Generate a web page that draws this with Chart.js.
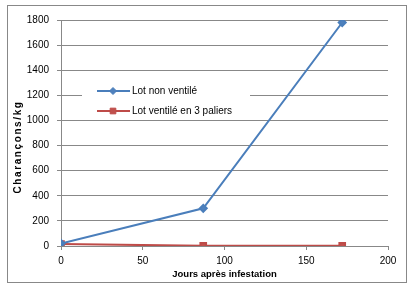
<!DOCTYPE html>
<html>
<head>
<meta charset="utf-8">
<script src="https://cdn.jsdelivr.net/npm/chart.js@4"></script>
<style>
  html, body { margin: 0; padding: 0; background: #fff; }
  #wrap { width: 412px; height: 287px; }
</style>
</head>
<body>
<div id="wrap"><canvas id="c" width="412" height="287"></canvas></div>
<script>
const days = [0, 87, 172];
const lotNonVentile = [20, 300, 1780];
const lotVentile3Paliers = [15, 2, 2];
const seriesNames = ["Lot non ventilé", "Lot ventilé en 3 paliers"];
const xTitle = "Jours après infestation";
const yTitle = "Charançons/kg";

const FONT = "'Liberation Sans', Arial, sans-serif";
const GRID = "#888888";

const toPoints = (xs, ys) => xs.map((x, i) => ({ x: x, y: ys[i] }));

const decorPlugin = {
  id: 'decor',
  beforeDraw(chart) {
    const ctx = chart.ctx;
    ctx.save();
    ctx.fillStyle = '#fff';
    ctx.fillRect(0, 0, chart.width, chart.height);
    ctx.strokeStyle = GRID;
    ctx.lineWidth = 1;
    ctx.strokeRect(7.5, 5.5, 399, 277);
    ctx.restore();
  },
  beforeDatasetsDraw(chart) {
    const ctx = chart.ctx;
    ctx.save();
    ctx.fillStyle = '#fff';
    ctx.fillRect(82, 77, 168, 42);
    ctx.restore();
  },
  afterDatasetsDraw(chart) {
    const ctx = chart.ctx;
    ctx.save();
    ctx.translate(18, 147);
    ctx.rotate(-Math.PI / 2);
    ctx.font = "bold 10px " + FONT;
    if ('letterSpacing' in ctx) ctx.letterSpacing = '1.6px';
    ctx.fillStyle = '#000';
    ctx.textAlign = 'center';
    ctx.textBaseline = 'middle';
    ctx.fillText(yTitle, 0, 0);
    ctx.restore();

    ctx.save();
    const rows = [91, 111];
    chart.data.datasets.forEach((ds, i) => {
      const y = rows[i];
      ctx.strokeStyle = ds.borderColor;
      ctx.lineWidth = 2;
      ctx.beginPath();
      ctx.moveTo(97, y);
      ctx.lineTo(130, y);
      ctx.stroke();
      ctx.fillStyle = ds.pointBackgroundColor;
      ctx.strokeStyle = ds.pointBorderColor;
      ctx.lineWidth = 1;
      ctx.beginPath();
      if (ds.pointStyle === 'rect') {
        const s = Math.SQRT1_2 * ds.pointRadius;
        ctx.rect(113 - s, y - s, 2 * s, 2 * s);
      } else {
        const r = ds.pointRadius;
        ctx.moveTo(113 - r, y);
        ctx.lineTo(113, y - r);
        ctx.lineTo(113 + r, y);
        ctx.lineTo(113, y + r);
        ctx.closePath();
      }
      ctx.fill();
      ctx.stroke();
      ctx.fillStyle = '#000';
      ctx.font = "10px " + FONT;
      ctx.textAlign = 'left';
      ctx.textBaseline = 'middle';
      ctx.fillText(ds.label, 132, y);
    });
    ctx.restore();
  }
};

new Chart(document.getElementById('c'), {
  type: 'line',
  data: {
    datasets: [
      {
        label: seriesNames[0],
        data: toPoints(days, lotNonVentile),
        borderColor: '#4A7EBB',
        backgroundColor: '#4A7EBB',
        pointBackgroundColor: '#4F81BD',
        pointBorderColor: '#4A7EBB',
        pointStyle: 'rectRot',
        pointRadius: 3.5,
        borderWidth: 2,
        tension: 0
      },
      {
        label: seriesNames[1],
        data: toPoints(days, lotVentile3Paliers),
        borderColor: '#BE4B48',
        backgroundColor: '#BE4B48',
        pointBackgroundColor: '#C0504D',
        pointBorderColor: '#BE4B48',
        pointStyle: 'rect',
        pointRadius: 4,
        borderWidth: 2,
        tension: 0
      }
    ]
  },
  options: {
    responsive: false,
    animation: false,
    devicePixelRatio: 1,
    layout: { padding: { left: 7, top: 20, right: 24, bottom: 0 } },
    plugins: { legend: { display: false }, tooltip: { enabled: false } },
    scales: {
      x: {
        type: 'linear',
        min: 0, max: 200,
        ticks: { stepSize: 50, padding: 5, color: '#000', font: { family: FONT, size: 10 }, callback: v => String(v) },
        grid: { drawOnChartArea: false, drawTicks: true, tickLength: 4, color: GRID },
        border: { display: true, color: GRID },
        title: { display: true, text: xTitle, color: '#000', font: { family: FONT, size: 9.5, weight: 'bold' }, padding: { top: 0, bottom: 7 } },
        afterFit(scale) { scale.height = 41; }
      },
      y: {
        type: 'linear',
        min: 0, max: 1800,
        ticks: { stepSize: 200, padding: 8, color: '#000', font: { family: FONT, size: 10 }, callback: v => String(v) },
        grid: { color: GRID, tickLength: 4 },
        border: { display: true, color: GRID },
        afterFit(scale) { scale.width = 54; }
      }
    }
  },
  plugins: [decorPlugin]
});
</script>
</body>
</html>
